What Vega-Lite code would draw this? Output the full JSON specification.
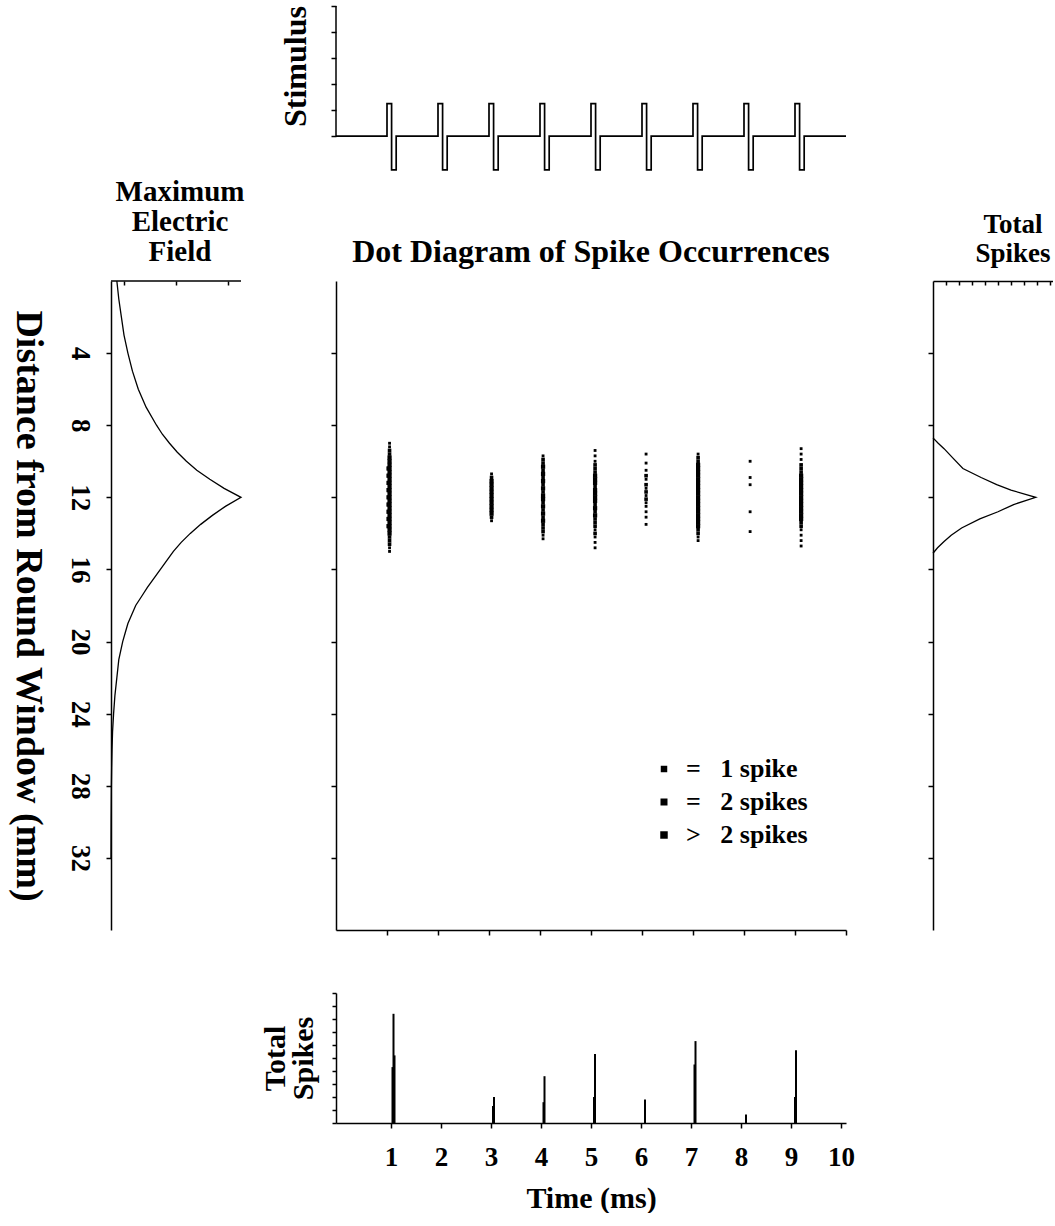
{
  "$schema": "https://vega.github.io/schema/vega-lite/v6.json",
  "background": "white",
  "padding": {"left": 7, "top": 5, "right": 0, "bottom": 0},
  "config": {
    "view": {"stroke": null},
    "font": "Liberation Serif",
    "axis": {"labelFont": "Liberation Serif", "labelFontWeight": "bold", "labelColor": "black", "titleFont": "Liberation Serif", "titleFontWeight": "bold", "titleColor": "black", "domainColor": "black", "tickColor": "black", "domainWidth": 1.5, "tickWidth": 1.5, "grid": false, "labelFlush": false, "labelOverlap": false},
    "title": {"font": "Liberation Serif", "fontWeight": "bold", "color": "black"},
    "legend": {"labelFont": "Liberation Serif", "labelFontWeight": "bold", "labelColor": "black"}
  },
  "columns": 3,
  "spacing": {"row": 63, "column": 87},
  "bounds": "flush",
  "concat": [
    {"width": 138, "height": 212, "data": {"values": []}, "mark": "point"},
    {
      "width": 510, "height": 212,
      "layer": [
        {
          "data": {"values": [
            {"i":0,"t":0,"v":0},
            {"i":1,"t":1,"v":0},{"i":2,"t":1,"v":2.5},{"i":3,"t":1.09,"v":2.5},{"i":4,"t":1.09,"v":-2.6},{"i":5,"t":1.18,"v":-2.6},{"i":6,"t":1.18,"v":0},
            {"i":7,"t":2,"v":0},{"i":8,"t":2,"v":2.5},{"i":9,"t":2.09,"v":2.5},{"i":10,"t":2.09,"v":-2.6},{"i":11,"t":2.18,"v":-2.6},{"i":12,"t":2.18,"v":0},
            {"i":13,"t":3,"v":0},{"i":14,"t":3,"v":2.5},{"i":15,"t":3.09,"v":2.5},{"i":16,"t":3.09,"v":-2.6},{"i":17,"t":3.18,"v":-2.6},{"i":18,"t":3.18,"v":0},
            {"i":19,"t":4,"v":0},{"i":20,"t":4,"v":2.5},{"i":21,"t":4.09,"v":2.5},{"i":22,"t":4.09,"v":-2.6},{"i":23,"t":4.18,"v":-2.6},{"i":24,"t":4.18,"v":0},
            {"i":25,"t":5,"v":0},{"i":26,"t":5,"v":2.5},{"i":27,"t":5.09,"v":2.5},{"i":28,"t":5.09,"v":-2.6},{"i":29,"t":5.18,"v":-2.6},{"i":30,"t":5.18,"v":0},
            {"i":31,"t":6,"v":0},{"i":32,"t":6,"v":2.5},{"i":33,"t":6.09,"v":2.5},{"i":34,"t":6.09,"v":-2.6},{"i":35,"t":6.18,"v":-2.6},{"i":36,"t":6.18,"v":0},
            {"i":37,"t":7,"v":0},{"i":38,"t":7,"v":2.5},{"i":39,"t":7.09,"v":2.5},{"i":40,"t":7.09,"v":-2.6},{"i":41,"t":7.18,"v":-2.6},{"i":42,"t":7.18,"v":0},
            {"i":43,"t":8,"v":0},{"i":44,"t":8,"v":2.5},{"i":45,"t":8.09,"v":2.5},{"i":46,"t":8.09,"v":-2.6},{"i":47,"t":8.18,"v":-2.6},{"i":48,"t":8.18,"v":0},
            {"i":49,"t":9,"v":0},{"i":50,"t":9,"v":2.5},{"i":51,"t":9.09,"v":2.5},{"i":52,"t":9.09,"v":-2.6},{"i":53,"t":9.18,"v":-2.6},{"i":54,"t":9.18,"v":0},
            {"i":55,"t":10,"v":0}
          ]},
          "mark": {"type": "line", "color": "black", "strokeWidth": 1.7, "strokeJoin": "miter"},
          "encoding": {
            "x": {"field": "t", "type": "quantitative", "scale": {"domain": [0, 10]}, "axis": null},
            "y": {"field": "v", "type": "quantitative", "scale": {"domain": [-6.3, 10]}, "axis": {"title": "Stimulus", "titleFontSize": 32, "titleY": 60, "titlePadding": 18, "values": [0,1,2,3,4,5,6,7,8,9,10], "labels": false, "domain": false, "tickSize": 5}},
            "order": {"field": "i", "type": "quantitative"}
          }
        },
        {
          "data": {"values": [{"t": 0, "v": 0, "v2": 10}]},
          "mark": {"type": "rule", "color": "black", "strokeWidth": 1.5},
          "encoding": {
            "x": {"field": "t", "type": "quantitative", "scale": {"domain": [0, 10]}},
            "y": {"field": "v", "type": "quantitative", "scale": {"domain": [-6.3, 10]}},
            "y2": {"field": "v2"}
          }
        }
      ]
    },
    {"width": 120, "height": 212, "data": {"values": []}, "mark": "point"},
    {
      "width": 138, "height": 649,
      "title": {"text": ["Maximum", "Electric", "Field"], "fontSize": 29, "lineHeight": 30, "anchor": "middle", "offset": 11},
      "layer": [
        {
          "data": {"values": [
            {"d":0,"e":0.45},{"d":1,"e":0.6},{"d":2,"e":0.8},{"d":3,"e":1.0},{"d":4,"e":1.3},{"d":5,"e":1.65},{"d":6,"e":2.1},{"d":7,"e":2.7},{"d":8,"e":3.5},{"d":8.5,"e":3.95},{"d":9,"e":4.5},{"d":9.5,"e":5.1},{"d":10,"e":5.8},{"d":10.5,"e":6.6},{"d":11,"e":7.6},{"d":11.5,"e":8.7},{"d":12,"e":10},{"d":12.5,"e":8.8},{"d":13,"e":7.8},{"d":13.5,"e":6.9},{"d":14,"e":6.1},{"d":14.5,"e":5.4},{"d":15,"e":4.8},{"d":15.5,"e":4.3},{"d":16,"e":3.8},{"d":16.5,"e":3.3},{"d":17,"e":2.8},{"d":17.5,"e":2.35},{"d":18,"e":1.9},{"d":18.5,"e":1.6},{"d":19,"e":1.3},{"d":19.5,"e":1.1},{"d":20,"e":0.9},{"d":21,"e":0.6},{"d":22,"e":0.45},{"d":23,"e":0.3},{"d":24,"e":0.2},{"d":25,"e":0.12},{"d":26,"e":0.08},{"d":27,"e":0.05},{"d":28,"e":0.03},{"d":30,"e":0.01},{"d":32,"e":0}
          ]},
          "mark": {"type": "line", "color": "black", "strokeWidth": 1.3},
          "encoding": {
            "x": {"field": "e", "type": "quantitative", "scale": {"domain": [0, 10.615]}, "axis": {"orient": "top", "values": [1,2,3,4,5,6,7,8,9,10], "labels": false, "domain": false, "tickSize": -4, "title": null}},
            "y": {"field": "d", "type": "quantitative", "scale": {"domain": [0, 36], "reverse": true}, "axis": {"values": [4,8,12,16,20,24,28,32], "labelAngle": 90, "labelAlign": "center", "labelBaseline": "top", "labelFontSize": 27, "labelPadding": 14, "tickSize": 5, "title": "Distance from Round Window (mm)", "titleAngle": 90, "titleBaseline": "top", "titleFontSize": 38, "titlePadding": 20}},
            "order": {"field": "d", "type": "quantitative"}
          }
        },
        {
          "data": {"values": [{"e": 0, "e2": 10, "d": 0}]},
          "mark": {"type": "rule", "color": "black", "strokeWidth": 1.5},
          "encoding": {
            "x": {"field": "e", "type": "quantitative", "scale": {"domain": [0, 10.615]}},
            "x2": {"field": "e2"},
            "y": {"field": "d", "type": "quantitative", "scale": {"domain": [0, 36], "reverse": true}}
          }
        }
      ]
    },
    {
      "width": 510, "height": 649,
      "title": {"text": "Dot Diagram of Spike Occurrences", "fontSize": 32, "anchor": "middle", "offset": 12},
      "resolve": {"scale": {"size": "independent"}, "legend": {"size": "independent"}},
      "layer": [
        {
          "data": {"values": [
            {"t":1.05,"d":9.0,"n":"1"},{"t":1.05,"d":9.2,"n":"1"},{"t":1.05,"d":9.4,"n":"2"},{"t":1.05,"d":9.6,"n":"2"},{"t":1.05,"d":9.8,"n":">2"},{"t":1.05,"d":10.0,"n":">2"},{"t":1.05,"d":10.2,"n":">2"},{"t":1.05,"d":10.4,"n":">2"},{"t":1.05,"d":10.6,"n":">2"},{"t":1.05,"d":10.8,"n":">2"},{"t":1.05,"d":11.0,"n":">2"},{"t":1.05,"d":11.2,"n":">2"},{"t":1.05,"d":11.4,"n":">2"},{"t":1.05,"d":11.6,"n":">2"},{"t":1.05,"d":11.8,"n":">2"},{"t":1.05,"d":12.0,"n":">2"},{"t":1.05,"d":12.2,"n":">2"},{"t":1.05,"d":12.4,"n":">2"},{"t":1.05,"d":12.6,"n":">2"},{"t":1.05,"d":12.8,"n":">2"},{"t":1.05,"d":13.0,"n":">2"},{"t":1.05,"d":13.2,"n":">2"},{"t":1.05,"d":13.4,"n":">2"},{"t":1.05,"d":13.6,"n":">2"},{"t":1.05,"d":13.8,"n":">2"},{"t":1.05,"d":14.0,"n":">2"},{"t":1.05,"d":14.2,"n":"2"},{"t":1.05,"d":14.4,"n":"2"},{"t":1.05,"d":14.6,"n":"2"},{"t":1.05,"d":14.8,"n":"1"},{"t":1.05,"d":15.0,"n":"1"},
            {"t":1.03,"d":10.4,"n":">2"},{"t":1.03,"d":10.8,"n":">2"},{"t":1.03,"d":11.2,"n":">2"},{"t":1.03,"d":11.6,"n":">2"},{"t":1.03,"d":12.0,"n":">2"},{"t":1.03,"d":12.4,"n":">2"},{"t":1.03,"d":12.8,"n":">2"},{"t":1.03,"d":13.2,"n":">2"},{"t":1.03,"d":13.6,"n":">2"},
            {"t":3.05,"d":10.7,"n":"1"},{"t":3.05,"d":10.9,"n":"2"},{"t":3.05,"d":11.1,"n":">2"},{"t":3.05,"d":11.3,"n":">2"},{"t":3.05,"d":11.5,"n":">2"},{"t":3.05,"d":11.7,"n":">2"},{"t":3.05,"d":11.9,"n":">2"},{"t":3.05,"d":12.1,"n":">2"},{"t":3.05,"d":12.3,"n":">2"},{"t":3.05,"d":12.5,"n":">2"},{"t":3.05,"d":12.7,"n":">2"},{"t":3.05,"d":12.9,"n":">2"},{"t":3.05,"d":13.1,"n":"2"},{"t":3.05,"d":13.3,"n":"1"},
            {"t":4.06,"d":9.7,"n":"1"},{"t":4.06,"d":9.9,"n":"2"},{"t":4.06,"d":10.1,"n":"2"},{"t":4.06,"d":10.3,"n":">2"},{"t":4.06,"d":10.5,"n":"2"},{"t":4.06,"d":10.7,"n":">2"},{"t":4.06,"d":10.9,"n":"2"},{"t":4.06,"d":11.1,"n":">2"},{"t":4.06,"d":11.3,"n":"2"},{"t":4.06,"d":11.5,"n":">2"},{"t":4.06,"d":11.7,"n":"2"},{"t":4.06,"d":11.9,"n":">2"},{"t":4.06,"d":12.1,"n":">2"},{"t":4.06,"d":12.3,"n":"2"},{"t":4.06,"d":12.5,"n":">2"},{"t":4.06,"d":12.7,"n":"2"},{"t":4.06,"d":12.9,"n":">2"},{"t":4.06,"d":13.1,"n":"2"},{"t":4.06,"d":13.3,"n":">2"},{"t":4.06,"d":13.5,"n":"2"},{"t":4.06,"d":13.7,"n":"2"},{"t":4.06,"d":13.9,"n":"2"},{"t":4.06,"d":14.1,"n":"1"},{"t":4.06,"d":14.3,"n":"1"},
            {"t":5.08,"d":9.4,"n":"1"},{"t":5.08,"d":9.7,"n":"1"},{"t":5.08,"d":10.0,"n":"1"},{"t":5.08,"d":10.2,"n":"2"},{"t":5.08,"d":10.4,"n":"2"},{"t":5.08,"d":10.6,"n":"2"},{"t":5.08,"d":10.8,"n":">2"},{"t":5.08,"d":11.0,"n":">2"},{"t":5.08,"d":11.2,"n":">2"},{"t":5.08,"d":11.4,"n":"2"},{"t":5.08,"d":11.6,"n":">2"},{"t":5.08,"d":11.8,"n":">2"},{"t":5.08,"d":12.0,"n":">2"},{"t":5.08,"d":12.2,"n":">2"},{"t":5.08,"d":12.4,"n":"2"},{"t":5.08,"d":12.6,"n":">2"},{"t":5.08,"d":12.8,"n":"2"},{"t":5.08,"d":13.0,"n":">2"},{"t":5.08,"d":13.2,"n":"2"},{"t":5.08,"d":13.4,"n":"2"},{"t":5.08,"d":13.6,"n":"2"},{"t":5.08,"d":13.8,"n":"1"},{"t":5.08,"d":14.0,"n":"2"},{"t":5.08,"d":14.2,"n":"1"},{"t":5.08,"d":14.5,"n":"1"},{"t":5.08,"d":14.8,"n":"1"},
            {"t":6.08,"d":9.6,"n":"1"},{"t":6.08,"d":10.1,"n":"1"},{"t":6.08,"d":10.5,"n":"1"},{"t":6.08,"d":10.8,"n":"2"},{"t":6.08,"d":11.0,"n":"1"},{"t":6.08,"d":11.3,"n":"2"},{"t":6.08,"d":11.5,"n":"1"},{"t":6.08,"d":11.7,"n":"2"},{"t":6.08,"d":11.9,"n":"1"},{"t":6.08,"d":12.1,"n":"2"},{"t":6.08,"d":12.3,"n":"1"},{"t":6.08,"d":12.5,"n":"1"},{"t":6.08,"d":12.8,"n":"1"},{"t":6.08,"d":13.1,"n":"1"},{"t":6.08,"d":13.5,"n":"1"},
            {"t":7.1,"d":9.6,"n":"1"},{"t":7.1,"d":9.8,"n":"2"},{"t":7.1,"d":10.0,"n":"2"},{"t":7.1,"d":10.2,"n":">2"},{"t":7.1,"d":10.4,"n":">2"},{"t":7.1,"d":10.6,"n":">2"},{"t":7.1,"d":10.8,"n":">2"},{"t":7.1,"d":11.0,"n":">2"},{"t":7.1,"d":11.2,"n":">2"},{"t":7.1,"d":11.4,"n":">2"},{"t":7.1,"d":11.6,"n":">2"},{"t":7.1,"d":11.8,"n":">2"},{"t":7.1,"d":12.0,"n":">2"},{"t":7.1,"d":12.2,"n":">2"},{"t":7.1,"d":12.4,"n":">2"},{"t":7.1,"d":12.6,"n":">2"},{"t":7.1,"d":12.8,"n":">2"},{"t":7.1,"d":13.0,"n":">2"},{"t":7.1,"d":13.2,"n":">2"},{"t":7.1,"d":13.4,"n":">2"},{"t":7.1,"d":13.6,"n":">2"},{"t":7.1,"d":13.8,"n":"2"},{"t":7.1,"d":14.0,"n":"2"},{"t":7.1,"d":14.2,"n":"1"},{"t":7.1,"d":14.4,"n":"1"},
            {"t":8.12,"d":10.0,"n":"1"},{"t":8.12,"d":10.9,"n":"1"},{"t":8.12,"d":11.3,"n":"1"},{"t":8.12,"d":12.8,"n":"1"},{"t":8.12,"d":13.9,"n":"1"},
            {"t":9.12,"d":9.3,"n":"1"},{"t":9.12,"d":9.6,"n":"1"},{"t":9.12,"d":9.9,"n":"1"},{"t":9.12,"d":10.2,"n":"2"},{"t":9.12,"d":10.4,"n":"2"},{"t":9.12,"d":10.6,"n":"2"},{"t":9.12,"d":10.8,"n":">2"},{"t":9.12,"d":11.0,"n":">2"},{"t":9.12,"d":11.2,"n":">2"},{"t":9.12,"d":11.4,"n":">2"},{"t":9.12,"d":11.6,"n":">2"},{"t":9.12,"d":11.8,"n":">2"},{"t":9.12,"d":12.0,"n":">2"},{"t":9.12,"d":12.2,"n":">2"},{"t":9.12,"d":12.4,"n":">2"},{"t":9.12,"d":12.6,"n":">2"},{"t":9.12,"d":12.8,"n":">2"},{"t":9.12,"d":13.0,"n":">2"},{"t":9.12,"d":13.2,"n":">2"},{"t":9.12,"d":13.4,"n":"2"},{"t":9.12,"d":13.6,"n":"2"},{"t":9.12,"d":13.8,"n":"1"},{"t":9.12,"d":14.1,"n":"1"},{"t":9.12,"d":14.4,"n":"1"},{"t":9.12,"d":14.7,"n":"1"}
          ]},
          "mark": {"type": "point", "shape": "square", "filled": true, "color": "black", "opacity": 1},
          "encoding": {
            "x": {"field": "t", "type": "quantitative", "scale": {"domain": [0, 10]}, "axis": {"values": [1,2,3,4,5,6,7,8,9,10], "labels": false, "tickSize": 5, "title": null}},
            "y": {"field": "d", "type": "quantitative", "scale": {"domain": [0, 36], "reverse": true}, "axis": {"values": [4,8,12,16,20,24,28,32], "labels": false, "tickSize": 5, "title": null}},
            "size": {"field": "n", "type": "ordinal", "scale": {"domain": ["1", "2", ">2"], "range": [8, 18, 38]}, "legend": null}
          }
        },
        {
          "data": {"values": [{"n": "1"}, {"n": "2"}, {"n": ">2"}]},
          "mark": {"type": "point", "shape": "square", "filled": true, "color": "black", "opacity": 0},
          "encoding": {
            "size": {
              "field": "n", "type": "ordinal",
              "scale": {"domain": ["1", "2", ">2"], "range": [42, 56, 85]},
              "legend": {
                "title": null, "orient": "none", "legendX": 315, "legendY": 475,
                "labelFontSize": 26, "labelOffset": 9, "rowPadding": 7, "padding": 0,
                "symbolType": "square", "symbolFillColor": "black", "symbolStrokeWidth": 0, "symbolOpacity": 1,
                "labelExpr": "datum.value === '>2' ? '>\u00a0\u00a0\u00a02 spikes' : datum.value === '2' ? '=\u00a0\u00a0\u00a02 spikes' : '=\u00a0\u00a0\u00a01 spike'"
              }
            }
          }
        }
      ]
    },
    {
      "width": 120, "height": 649,
      "title": {"text": ["Total", "Spikes"], "fontSize": 27, "lineHeight": 29, "anchor": "middle", "dx": 20, "offset": 12},
      "data": {"values": [
        {"d":8.7,"s":0},{"d":9.0,"s":0.4},{"d":9.3,"s":0.85},{"d":9.8,"s":1.5},{"d":10.4,"s":2.3},{"d":10.9,"s":3.7},{"d":11.3,"s":4.9},{"d":11.6,"s":6.0},{"d":12.0,"s":7.9},{"d":12.4,"s":6.2},{"d":12.8,"s":5.0},{"d":13.2,"s":3.6},{"d":13.7,"s":2.2},{"d":14.1,"s":1.4},{"d":14.45,"s":0.85},{"d":14.8,"s":0.35},{"d":15.1,"s":0}
      ]},
      "mark": {"type": "line", "color": "black", "strokeWidth": 1.3},
      "encoding": {
        "x": {"field": "s", "type": "quantitative", "scale": {"domain": [0, 9.23]}, "axis": {"orient": "top", "values": [1,2,3,4,5,6,7,8,9], "labels": false, "tickSize": -4, "title": null}},
        "y": {"field": "d", "type": "quantitative", "scale": {"domain": [0, 36], "reverse": true}, "axis": {"values": [4,8,12,16,20,24,28,32], "labels": false, "tickSize": 5, "title": null}},
        "order": {"field": "d", "type": "quantitative"}
      }
    },
    {"width": 138, "height": 130, "data": {"values": []}, "mark": "point"},
    {
      "width": 510, "height": 130,
      "data": {"values": [
        {"t":1.03,"c":4.3},{"t":1.05,"c":8.4},{"t":1.07,"c":5.2},{"t":3.04,"c":1.3},{"t":3.06,"c":2.0},{"t":4.05,"c":1.6},{"t":4.07,"c":3.6},{"t":5.06,"c":2.0},{"t":5.08,"c":5.3},{"t":6.08,"c":1.8},{"t":7.07,"c":4.5},{"t":7.09,"c":6.3},{"t":8.1,"c":0.65},{"t":9.08,"c":2.0},{"t":9.1,"c":5.6}
      ]},
      "mark": {"type": "bar", "color": "black", "size": 2},
      "encoding": {
        "x": {"field": "t", "type": "quantitative", "scale": {"domain": [0, 10]}, "axis": {"values": [1,2,3,4,5,6,7,8,9,10], "labelFontSize": 27, "labelPadding": 16, "tickSize": 5, "title": "Time (ms)", "titleFontSize": 30, "titlePadding": 13}},
        "y": {"field": "c", "type": "quantitative", "scale": {"domain": [0, 10]}, "axis": {"values": [0,1,2,3,4,5,6,7,8,9,10], "labels": false, "tickSize": 4, "title": ["Total", "Spikes"], "titleFontSize": 30, "titleLineHeight": 28, "titlePadding": 13}}
      }
    }
  ]
}
